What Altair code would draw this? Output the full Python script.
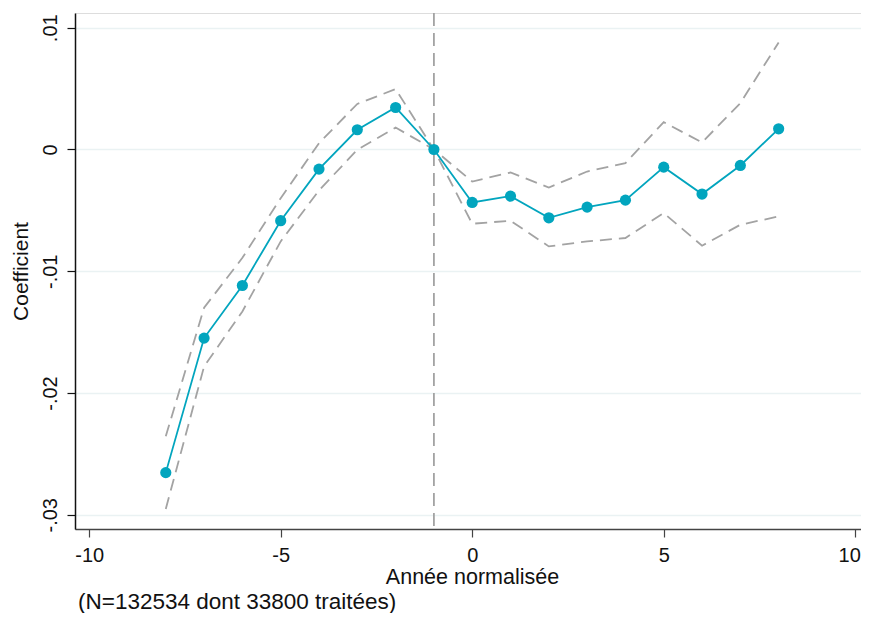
import altair as alt
import pandas as pd

# Event-study estimates
years = [-8, -7, -6, -5, -4, -3, -2, -1, 0, 1, 2, 3, 4, 5, 6, 7, 8]
coef = [-0.02654, -0.01549, -0.01117, -0.00585, -0.00161, 0.00162, 0.00345, 0.0,
        -0.00435, -0.00383, -0.00561, -0.00473, -0.00416, -0.00145, -0.00366, -0.00131, 0.0017]
ci_upper = [-0.02356, -0.0130, -0.0089, -0.0040, 0.00052, 0.00374, 0.00496, 0.0,
            -0.00263, -0.00189, -0.00312, -0.00181, -0.00112, 0.00225, 0.00058, 0.00381, 0.00879]
ci_lower = [-0.02952, -0.01782, -0.0133, -0.00755, -0.00336, -0.00002, 0.0018, 0.0,
            -0.0061, -0.00585, -0.00796, -0.00755, -0.00727, -0.00522, -0.0079, -0.00618, -0.0055]
ref_year = [-1]
x_ticks = [-10, -5, 0, 5, 10]
y_ticks = [-0.03, -0.02, -0.01, 0.0, 0.01]
note = ["(N=132534 dont 33800 traitées)"]

df = pd.DataFrame({"year": years, "coef": coef, "upper": ci_upper, "lower": ci_lower})
ref_df = pd.DataFrame({"year": ref_year})
note_df = pd.DataFrame({"txt": note})

FONT = "Liberation Sans"
TEAL = "#02A5BE"
GRAY = "#A3A3A3"

x_scale = alt.Scale(domain=[-10.37, 10.15], nice=False, zero=False)
y_scale = alt.Scale(domain=[-0.03117, 0.01121], nice=False, zero=False)

x_axis = alt.Axis(
    values=x_ticks, labelExpr="datum.value + ''", grid=False,
    tickSize=8, tickColor="#444444", domainColor="#444444", domainWidth=1.5, tickWidth=1.2,
    labelFontSize=20, labelFont=FONT, labelColor="#111111", labelPadding=8,
    labelFlush=8, labelFlushOffset=5,
    title="Année normalisée", titleFont=FONT, titleFontSize=21.5, titleFontWeight="normal",
    titleColor="#111111", titleBaseline="alphabetic", titleY=54, titleX=397,
)
y_axis = alt.Axis(
    values=y_ticks,
    labelExpr="datum.value == 0 ? '0' : (datum.value < 0 ? '-' : '') + replace(format(abs(datum.value), '.2f'), '0.', '.')",
    grid=True, gridColor="#EAF2F3", gridWidth=1.5,
    tickSize=8, tickColor="#111111", domainColor="#111111", domainWidth=1.5, tickWidth=1.2,
    labelFontSize=20, labelFont=FONT, labelColor="#111111", labelAngle=270,
    labelAlign="center", labelBaseline="bottom", labelPadding=7,
    title="Coefficient", titleFont=FONT, titleFontSize=21, titleFontWeight="normal",
    titleColor="#111111", titleAngle=270, titleBaseline="alphabetic", titleX=-48, titleY=258,
)

X = alt.X("year:Q", scale=x_scale, axis=x_axis)

base = alt.Chart(df)

upper = base.mark_line(color=GRAY, strokeDash=[12, 7], strokeWidth=1.8).encode(
    x=X, y=alt.Y("upper:Q", scale=y_scale, axis=y_axis)
)
lower = base.mark_line(color=GRAY, strokeDash=[12, 7], strokeWidth=1.8).encode(
    x=X, y=alt.Y("lower:Q", scale=y_scale, axis=y_axis)
)
ref = alt.Chart(ref_df).mark_rule(color=GRAY, strokeDash=[13, 7], strokeWidth=1.8).encode(x=X)
line = base.mark_line(color=TEAL, strokeWidth=1.8).encode(
    x=X, y=alt.Y("coef:Q", scale=y_scale, axis=y_axis)
)
pts = base.mark_circle(color=TEAL, opacity=1, size=125).encode(
    x=X, y=alt.Y("coef:Q", scale=y_scale, axis=y_axis)
)
note_txt = alt.Chart(note_df).mark_text(
    align="left", baseline="alphabetic", font=FONT, fontSize=22.5, color="#111111"
).encode(text="txt:N", x=alt.value(3), y=alt.value(596))

chart = alt.layer(upper, lower, ref, line, pts, note_txt).properties(
    width=786, height=516,
    autosize=alt.AutoSizeParams(type="none"),
    padding={"left": 67, "top": 5, "right": 0, "bottom": 84},
).configure_view(stroke=None).configure(background="white")

chart.save("out.html", embed_options={"renderer": "svg", "actions": False})
